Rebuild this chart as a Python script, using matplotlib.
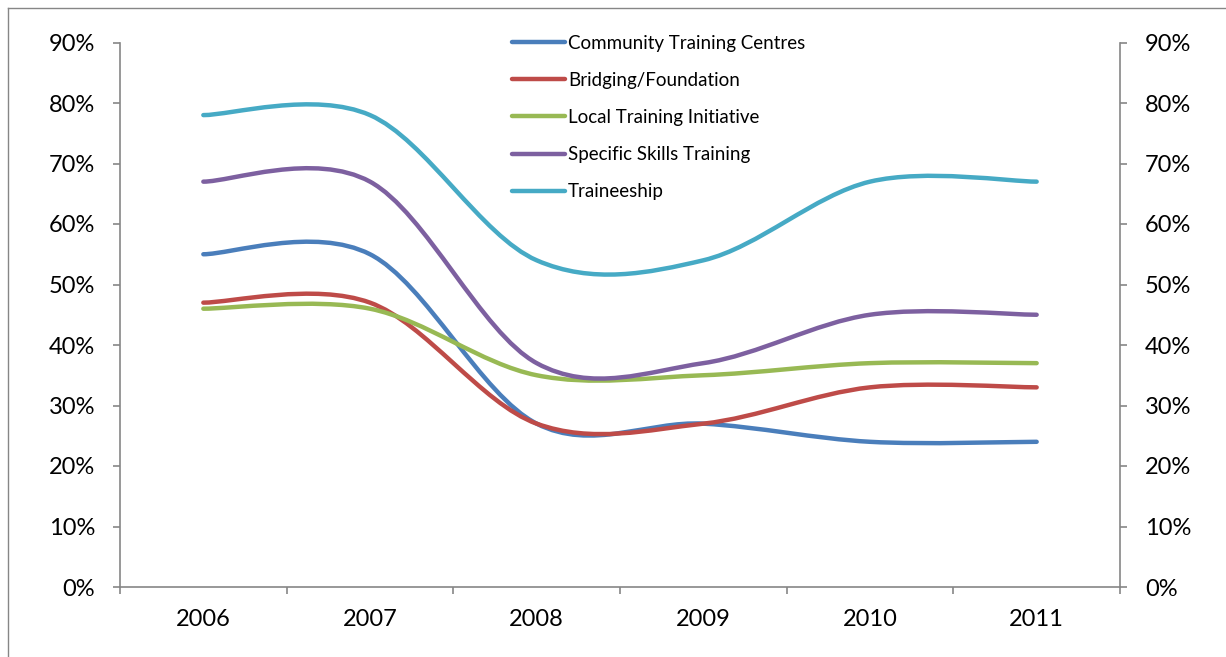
import matplotlib
matplotlib.use("Agg")
import matplotlib.pyplot as plt
from matplotlib.path import Path
from matplotlib.patches import PathPatch
from matplotlib.lines import Line2D
from matplotlib.ticker import FuncFormatter, FixedLocator

# Completion rates by program type (%)
years = ["2006", "2007", "2008", "2009", "2010", "2011"]
community = [55, 55, 27, 27, 24, 24]
bridging = [47, 47, 27, 27, 33, 33]
local_training = [46, 46, 35, 35, 37, 37]
specific_skills = [67, 67, 37, 37, 45, 45]
traineeship = [78, 78, 54, 54, 67, 67]

series_names = ["Community Training Centres", "Bridging/Foundation",
                "Local Training Initiative", "Specific Skills Training",
                "Traineeship"]
series_values = [community, bridging, local_training, specific_skills, traineeship]
colors = ["#4A7EBB", "#BE4B48", "#98B954", "#7D60A0", "#46AAC5"]

plt.rcParams["font.family"] = ["Lato", "DejaVu Sans"]


def smooth_path(xs, ys):
    """Smoothed line through the points: cubic Bezier segments with
    Catmull-Rom tangents (the usual spreadsheet 'smoothed line')."""
    n = len(xs)
    verts = [(xs[0], ys[0])]
    codes = [Path.MOVETO]
    for i in range(n - 1):
        i0 = max(i - 1, 0)
        i3 = min(i + 2, n - 1)
        c1 = (xs[i] + (xs[i + 1] - xs[i0]) / 6.0, ys[i] + (ys[i + 1] - ys[i0]) / 6.0)
        c2 = (xs[i + 1] - (xs[i3] - xs[i]) / 6.0, ys[i + 1] - (ys[i3] - ys[i]) / 6.0)
        verts += [c1, c2, (xs[i + 1], ys[i + 1])]
        codes += [Path.CURVE4] * 3
    return Path(verts, codes)


W, H = 1226, 657
fig = plt.figure(figsize=(W / 100, H / 100), dpi=100)
fig.patch.set_facecolor("white")

left, right, top, bottom = 120, 1120, 42.5, 587
ax = fig.add_axes([left / W, 1 - bottom / H, (right - left) / W, (bottom - top) / H])

xpos = list(range(len(years)))
for vals, color, name in zip(series_values, colors, series_names):
    patch = PathPatch(smooth_path(xpos, vals), facecolor="none", edgecolor=color,
                      lw=3.2, capstyle="round", joinstyle="round", zorder=3)
    ax.add_patch(patch)

ax.set_xlim(-0.5, len(years) - 0.5)
ax.set_ylim(0, 90)

grey = "#868686"
for side in ("left", "right", "bottom"):
    ax.spines[side].set_color(grey)
    ax.spines[side].set_linewidth(1.2)
ax.spines["top"].set_visible(False)

ax.set_yticks(range(0, 91, 10))
ax.yaxis.set_major_formatter(FuncFormatter(lambda v, p: f"{v:.0f}%"))
ax.tick_params(axis="y", which="major", direction="out", length=5, width=1.2,
               color=grey, left=True, right=True, labelleft=True, labelright=True,
               labelsize=17, pad=13)

# category boundaries carry the tick marks; labels sit at category centres
ax.xaxis.set_major_locator(FixedLocator([i - 0.5 for i in range(len(years) + 1)]))
ax.xaxis.set_major_formatter(FuncFormatter(lambda v, p: ""))
ax.xaxis.set_minor_locator(FixedLocator(xpos))
ax.set_xticklabels(years, minor=True)
ax.tick_params(axis="x", which="major", direction="out", length=5, width=1.2, color=grey)
ax.tick_params(axis="x", which="minor", length=0, labelsize=17, pad=16)

handles = [Line2D([], [], color=c, lw=3.2, solid_capstyle="round") for c in colors]
fig.legend(handles, series_names, loc="upper left",
           bbox_to_anchor=(512 / W, 1 - 34.5 / H), frameon=False,
           fontsize=13.5, handlelength=2.85, handletextpad=0.15,
           labelspacing=1.08, borderpad=0, borderaxespad=0)

# outer chart frame
fig.add_artist(Line2D([8 / W, 1.0], [1 - 8 / H, 1 - 8 / H], color=grey, lw=1.0,
                      transform=fig.transFigure))
fig.add_artist(Line2D([8 / W, 8 / W], [1 - 8 / H, 0.0], color=grey, lw=1.0,
                      transform=fig.transFigure))

fig.savefig("out.png", dpi=100, facecolor="white")
